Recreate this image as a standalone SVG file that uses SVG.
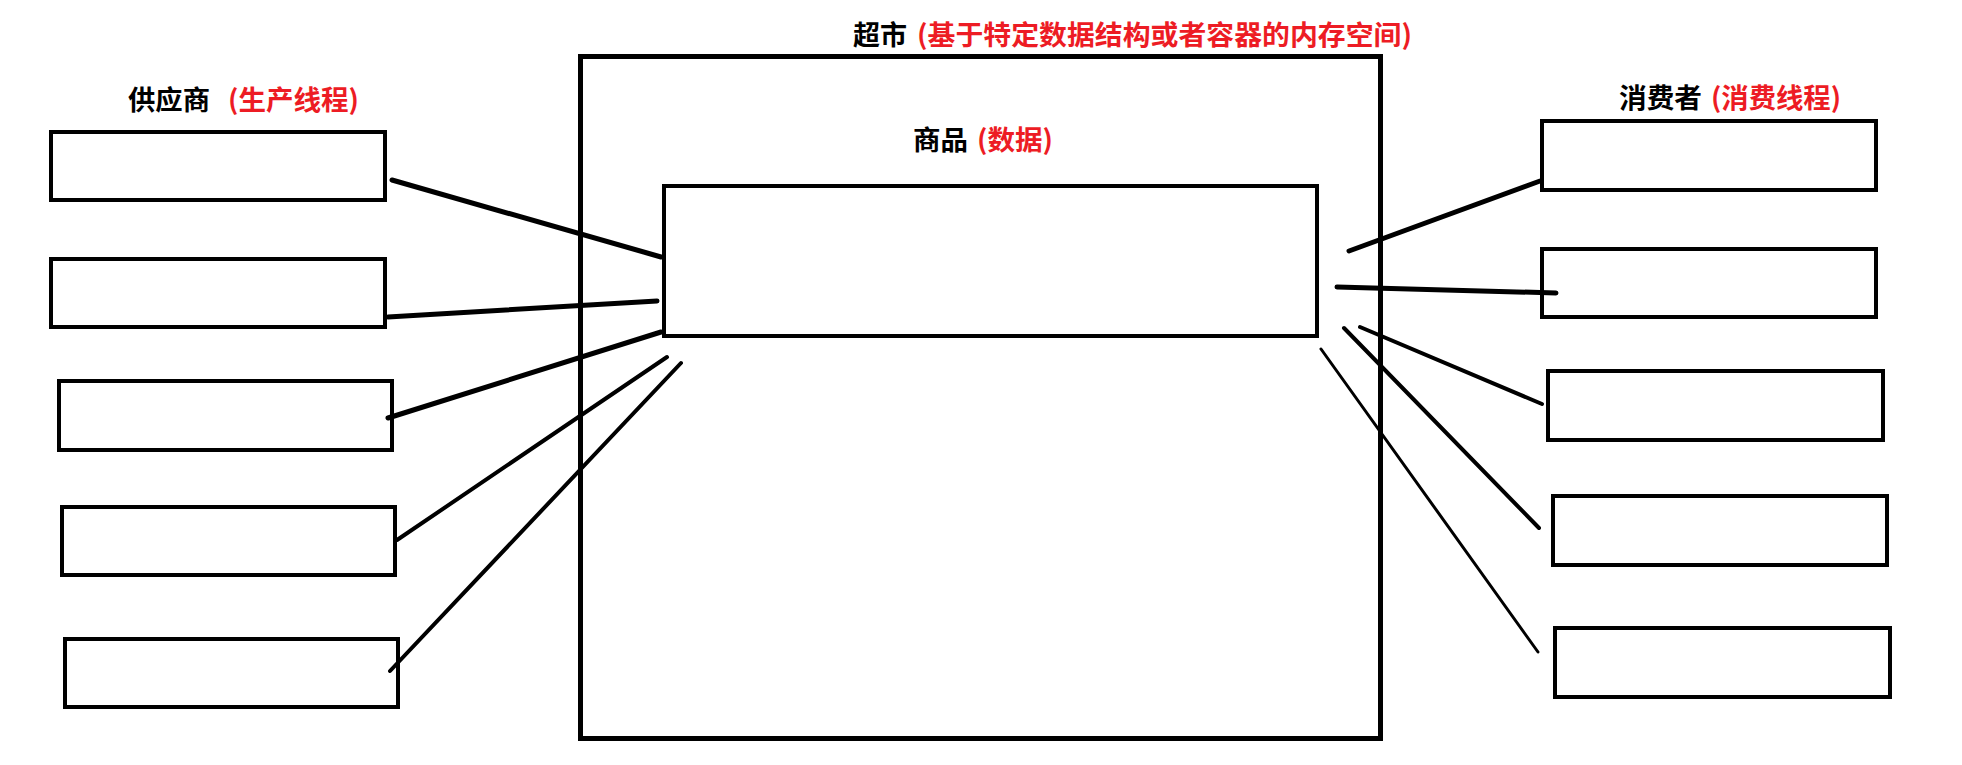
<svg xmlns="http://www.w3.org/2000/svg" width="1962" height="765" viewBox="0 0 1962 765">
<style>
.box{fill:#fff;stroke:#000;stroke-width:4}
.outer{fill:#fff;stroke:#000;stroke-width:5}
.lbl{font-family:"Microsoft YaHei","Noto Sans CJK SC",sans-serif;font-weight:bold;font-size:27px}
.blk{fill:#000}
.red{fill:#ED1C24}
.conn line{stroke:#000;stroke-linecap:round}
</style>
<rect width="1962" height="765" fill="#fff"/>
<g id="supermarket">
<rect class="outer" x="580.5" y="56.5" width="800" height="682"/>
<text class="lbl blk" x="853" y="45" textLength="54" lengthAdjust="spacingAndGlyphs">超市</text>
<text class="lbl red" x="917" y="45" textLength="495" lengthAdjust="spacingAndGlyphs">(基于特定数据结构或者容器的内存空间)</text>
</g>
<g id="goods">
<rect class="box" x="664" y="186" width="653" height="150"/>
<text class="lbl blk" x="913" y="150" textLength="55" lengthAdjust="spacingAndGlyphs">商品</text>
<text class="lbl red" x="977" y="150" textLength="76" lengthAdjust="spacingAndGlyphs">(数据)</text>
</g>
<g id="producer-label">
<text class="lbl blk" x="128" y="110" textLength="82" lengthAdjust="spacingAndGlyphs">供应商</text>
<text class="lbl red" x="228" y="110" textLength="131" lengthAdjust="spacingAndGlyphs">(生产线程)</text>
</g>
<g id="consumer-label">
<text class="lbl blk" x="1619" y="108" textLength="83" lengthAdjust="spacingAndGlyphs">消费者</text>
<text class="lbl red" x="1711" y="108" textLength="130" lengthAdjust="spacingAndGlyphs">(消费线程)</text>
</g>
<g id="producer1"><rect class="box" x="51" y="132" width="334" height="68"/></g>
<g id="producer2"><rect class="box" x="51" y="259" width="334" height="68"/></g>
<g id="producer3"><rect class="box" x="59" y="381" width="333" height="69"/></g>
<g id="producer4"><rect class="box" x="62" y="507" width="333" height="68"/></g>
<g id="producer5"><rect class="box" x="65" y="639" width="333" height="68"/></g>
<g id="consumer1"><rect class="box" x="1542" y="121" width="334" height="69"/></g>
<g id="consumer2"><rect class="box" x="1542" y="249" width="334" height="68"/></g>
<g id="consumer3"><rect class="box" x="1548" y="371" width="335" height="69"/></g>
<g id="consumer4"><rect class="box" x="1553" y="496" width="334" height="69"/></g>
<g id="consumer5"><rect class="box" x="1555" y="628" width="335" height="69"/></g>
<g class="conn" id="connectors">
<line x1="392" y1="180" x2="661" y2="257" stroke-width="5"/>
<line x1="388" y1="317" x2="657" y2="301" stroke-width="5"/>
<line x1="388" y1="418" x2="661" y2="332" stroke-width="5"/>
<line x1="667" y1="357" x2="397" y2="540" stroke-width="4"/>
<line x1="681" y1="363" x2="390" y2="671" stroke-width="4"/>
<line x1="1349" y1="251" x2="1540" y2="181" stroke-width="5"/>
<line x1="1337" y1="287" x2="1556" y2="293" stroke-width="5"/>
<line x1="1360" y1="327" x2="1542" y2="404" stroke-width="4"/>
<line x1="1344" y1="328" x2="1539" y2="528" stroke-width="4"/>
<line x1="1321" y1="349" x2="1538" y2="652" stroke-width="3"/>
</g>
</svg>
